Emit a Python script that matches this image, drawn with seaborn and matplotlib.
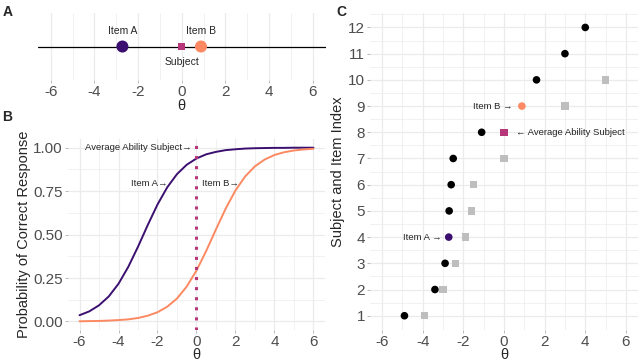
import numpy as np
import pandas as pd
import seaborn as sns
import matplotlib.pyplot as plt

sns.set_theme(style="white")
plt.rcParams['font.family'] = ['Liberation Sans', 'DejaVu Sans']
plt.rcParams['axes.unicode_minus'] = False

COL_A = "#3B0F70"
COL_B = "#FC8961"
COL_SUBJ = "#B63679"
GRID = "#EBEBEB"
TICK = "#4D4D4D"

# item / subject locations on theta
theta_item_a = -2.72
theta_item_b = 0.88
theta_subject = 0.0

# item characteristic curves
theta_grid = [-6, -5.5, -5, -4.5, -4, -3.5, -3, -2.5, -2, -1.5, -1, -0.5, 0,
              0.5, 1, 1.5, 2, 2.5, 3, 3.5, 4, 4.5, 5, 5.5, 6]
p_item_a = [0.036, 0.058, 0.093, 0.144, 0.217, 0.314, 0.430, 0.555, 0.673, 0.772,
            0.848, 0.902, 0.938, 0.962, 0.976, 0.986, 0.991, 0.995, 0.997, 0.998,
            0.999, 0.999, 1.0, 1.0, 1.0]
p_item_b = [0.001, 0.002, 0.003, 0.005, 0.008, 0.012, 0.020, 0.033, 0.053, 0.085,
            0.132, 0.201, 0.293, 0.406, 0.530, 0.650, 0.754, 0.835, 0.893, 0.932,
            0.958, 0.974, 0.984, 0.990, 0.994]

# panel C: other subjects (black) and other items (grey)
subj_idx = [1, 2, 3, 5, 6, 7, 8, 10, 11, 12]
subj_theta = [-4.9, -3.4, -2.9, -2.7, -2.6, -2.5, -1.1, 1.6, 3.0, 4.0]
item_idx = [1, 2, 3, 4, 5, 6, 7, 9, 10]
item_theta = [-3.9, -3.0, -2.4, -1.9, -1.6, -1.5, 0.0, 3.0, 5.0]
idx_item_a, idx_item_b, idx_subject = 4, 9, 8

x_ticks = [-6, -4, -2, 0, 2, 4, 6]


def style_ax(ax, xlim, ylim=None):
    ax.set_facecolor("white")
    for s in ax.spines.values():
        s.set_visible(False)
    ax.set_xlim(*xlim)
    if ylim:
        ax.set_ylim(*ylim)
    ax.set_xticks(x_ticks)
    ax.set_xticks(np.arange(-5, 6, 2), minor=True)
    ax.grid(True, which="major", color=GRID, lw=0.9)
    ax.grid(True, which="minor", color=GRID, lw=0.5)
    ax.set_axisbelow(True)
    ax.tick_params(axis="both", which="major", labelsize=11, labelcolor=TICK,
                   color="#B0B0B0", length=2.5, width=0.6, pad=1, bottom=True, left=True)
    ax.tick_params(which="minor", length=0)


fig = plt.figure(figsize=(6.4, 3.62), dpi=100)
ax_a = fig.add_axes([0.059, 0.779, 0.45, 0.185])
ax_b = fig.add_axes([0.106, 0.088, 0.402, 0.528])
ax_c = fig.add_axes([0.578, 0.088, 0.419, 0.876])

# ---- A
style_ax(ax_a, (-6.6, 6.6), (-1, 1))
ax_a.set_yticks([])
ax_a.axhline(0, color="black", lw=0.9, zorder=1)
df_a = pd.DataFrame({"theta": [theta_item_a, theta_item_b], "y": [0, 0], "lab": ["A", "B"]})
sns.scatterplot(data=df_a, x="theta", y="y", hue="lab", palette=[COL_A, COL_B],
                s=75, edgecolor="none", legend=False, ax=ax_a, zorder=3)
sns.scatterplot(x=[theta_subject], y=[0], marker="s", color=COL_SUBJ, s=28,
                edgecolor="none", ax=ax_a, zorder=3)
ax_a.text(theta_item_a, 0.45, "Item A", ha="center", va="center", fontsize=7.5)
ax_a.text(theta_item_b, 0.45, "Item B", ha="center", va="center", fontsize=7.5)
ax_a.text(theta_subject, -0.45, "Subject", ha="center", va="center", fontsize=7.5)
ax_a.set_xlabel("θ", fontsize=10.5, labelpad=0)
ax_a.set_ylabel("")

# ---- B
style_ax(ax_b, (-6.6, 6.6), (-0.05, 1.05))
ax_b.set_yticks([0, 0.25, 0.5, 0.75, 1.0])
ax_b.set_yticks([0.125, 0.375, 0.625, 0.875], minor=True)
ax_b.set_yticklabels(["0.00", "0.25", "0.50", "0.75", "1.00"])
df_b = pd.DataFrame({"theta": theta_grid * 2, "p": p_item_a + p_item_b,
                     "item": ["A"] * len(theta_grid) + ["B"] * len(theta_grid)})
sns.lineplot(data=df_b, x="theta", y="p", hue="item", palette=[COL_A, COL_B],
             lw=1.4, legend=False, ax=ax_b)
ax_b.axvline(theta_subject, color=COL_SUBJ, lw=2.2, ls=(0, (1, 2.3)),
             dash_capstyle="butt", zorder=4)
ax_b.text(-0.23, 1.0, "Average Ability Subject→", ha="right", va="center", fontsize=6.8)
ax_b.text(-1.5, 0.795, "Item A→", ha="right", va="center", fontsize=6.8)
ax_b.text(0.28, 0.795, "Item B→", ha="left", va="center", fontsize=6.8)
ax_b.set_xlabel("θ", fontsize=10.5, labelpad=-0.5)
ax_b.set_ylabel("Probability of Correct Response", fontsize=10.5, labelpad=2)

# ---- C
style_ax(ax_c, (-6.6, 6.6), (0.45, 12.55))
ax_c.set_yticks(range(1, 13))
ax_c.set_yticks(np.arange(1.5, 12.6, 1), minor=True)
sns.scatterplot(x=item_theta, y=item_idx, marker="s", color="#BEBEBE", s=28,
                edgecolor="none", ax=ax_c, zorder=3)
sns.scatterplot(x=subj_theta, y=subj_idx, color="black", s=30,
                edgecolor="none", ax=ax_c, zorder=3)
sns.scatterplot(x=[theta_item_a], y=[idx_item_a], color=COL_A, s=30, edgecolor="none", ax=ax_c, zorder=3)
sns.scatterplot(x=[theta_item_b], y=[idx_item_b], color=COL_B, s=30, edgecolor="none", ax=ax_c, zorder=3)
sns.scatterplot(x=[theta_subject], y=[idx_subject], marker="s", color=COL_SUBJ, s=28,
                edgecolor="none", ax=ax_c, zorder=3)
ax_c.text(0.44, idx_item_b, "Item B →", ha="right", va="center", fontsize=6.8)
ax_c.text(0.59, idx_subject, "← Average Ability Subject", ha="left", va="center", fontsize=6.8)
ax_c.text(-3.07, idx_item_a, "Item A →", ha="right", va="center", fontsize=6.8)
ax_c.set_xlabel("θ", fontsize=10.5, labelpad=-0.5)
ax_c.set_ylabel("Subject and Item Index", fontsize=10.5, labelpad=2)

fig.text(0.004, 0.985, "A", fontsize=10, fontweight="bold", va="top")
fig.text(0.004, 0.695, "B", fontsize=10, fontweight="bold", va="top")
fig.text(0.525, 0.985, "C", fontsize=10, fontweight="bold", va="top")

fig.savefig("out.png", dpi=100)
